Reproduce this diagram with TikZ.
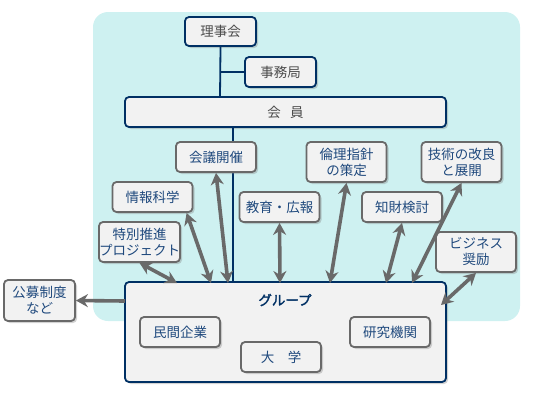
\documentclass[tikz,border=0pt]{standalone}
\usepackage{fontspec}
\usetikzlibrary{arrows.meta,shadows}
\newfontfamily\jp{Noto Sans CJK JP}
\newfontfamily\jpb[FakeBold=2]{Noto Sans CJK JP}
\definecolor{orgN}{RGB}{0,48,100}
\definecolor{orgG}{RGB}{105,105,105}
\definecolor{orgT}{RGB}{31,73,125}
\definecolor{orgBg}{RGB}{206,241,241}
\definecolor{orgF}{RGB}{242,242,242}

\begin{document}
\begin{tikzpicture}[x=1pt,y=-1pt,
  box/.style={rounded corners=4pt,fill=orgF,line width=1.8pt,align=center,inner sep=0pt,
    font=\jp\fontsize{13.5}{16}\selectfont,drop shadow={opacity=0.35,shadow xshift=2pt,shadow yshift=-2pt}},
  navy/.style={box,draw=orgN,text=black!70},
  topic/.style={box,draw=orgG,text=orgT,minimum width=80pt,minimum height=30pt},
  link/.style={orgG,line width=3.6pt,{Stealth[length=12pt,width=13pt]}-{Stealth[length=12pt,width=13pt]}},
  tie/.style={orgN,line width=1.8pt}]
\useasboundingbox (0,0) rectangle (537,400);
% background field
\fill[orgBg,rounded corners=15pt] (93,12) rectangle (520,321);

% board and members
\node[navy,minimum width=71pt,minimum height=29pt] (riji) at (220.5,31.5) {理事会};
\node[navy,minimum width=71pt,minimum height=30pt] (jimu) at (280.5,72) {事務局};
\coordinate (kj) at (220,72);
\coordinate (km) at (220,97);
\draw[tie] (riji.south) -- (km);
\draw[tie] (kj) -- (jimu.west);
\node[navy,minimum width=321pt,minimum height=30pt] (kaiin) at (285.5,112) {会\hspace{0.7em}員};

% group
\coordinate (gk) at (233,283);
\draw[tie] (kaiin.south-|gk) -- (gk);
\node[navy,minimum width=321pt,minimum height=100pt] (group) at (285.5,332) {};
\node[text=orgN,font=\jpb\fontsize{13.5}{16}\selectfont] (title) at (285,300) {グループ};
\node[topic] (minkan) at (180,332) {民間企業};
\node[topic] (daigaku) at (281,357) {大\hspace{1em}学};
\node[topic] (kenkyu) at (390,332) {研究機関};
\node[topic,minimum width=71pt,minimum height=41pt] (koubo) at (39.5,300.5) {公募制度\\など};

% activities
\node[topic] (kaigi) at (216,157) {会議開催};
\node[topic] (joho) at (152.5,197) {情報科学};
\node[topic,minimum height=40pt] (tokubetsu) at (139.5,242) {特別推進\\プロジェクト};
\node[topic] (kyoiku) at (279.5,207) {教育・広報};
\node[topic,minimum height=40pt] (rinri) at (346.5,162) {倫理指針\\の策定};
\node[topic,minimum height=40pt] (gijutsu) at (461.5,162) {技術の改良\\と展開};
\node[topic] (chizai) at (402,207) {知財検討};
\node[topic,minimum height=40pt] (business) at (476,252) {ビジネス\\奨励};

% arrows
\coordinate (g1) at (177,283);
\coordinate (g2) at (211,283);
\coordinate (g3) at (228,283);
\coordinate (g4) at (280,283);
\coordinate (g5) at (330,283);
\coordinate (g6) at (386,283);
\coordinate (g7) at (412,283);
\coordinate (g8) at (441,305);
\coordinate (gw) at (125,301);
\draw[link] (tokubetsu.south) -- (g1);
\draw[link] (joho.-25) -- (g2);
\draw[link] (kaigi.south) -- (g3);
\draw[link] (kyoiku.south) -- (g4);
\draw[link] (rinri.south) -- (g5);
\draw[link] (chizai.south) -- (g6);
\draw[link] (gijutsu.south) -- (g7);
\draw[link] (business.south) -- (g8);
\draw[orgG,line width=3.6pt,-{Stealth[length=12pt,width=13pt]}] (gw) -- (koubo.east);
\end{tikzpicture}
\end{document}
